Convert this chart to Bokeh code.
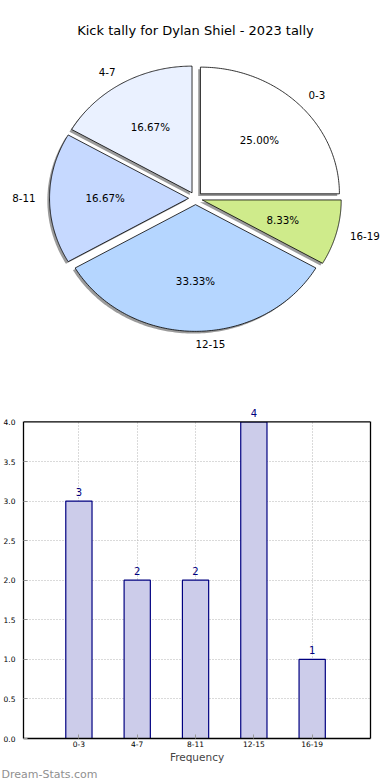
import numpy as np
from bokeh.plotting import figure
from bokeh.layouts import column
from bokeh.models import (Range1d, ColumnDataSource, LabelSet, LinearAxis, Span, BoxAnnotation,
                          Title, FixedTicker, SingleIntervalTicker, PrintfTickFormatter)
from bokeh.core.properties import value
from bokeh.embed import file_html
from bokeh.resources import INLINE

# ---------------- data ----------------
title = "Kick tally for Dylan Shiel - 2023 tally"
categories = ["0-3", "4-7", "8-11", "12-15", "16-19"]
counts = [3, 2, 2, 4, 1]
pie_colors = ["#ffffff", "#eaf1ff", "#c6d9ff", "#b5d6ff", "#cfeb8b"]
x_label = "Frequency"
watermark = "Dream-Stats.com"

FONT = "DejaVu Sans"

# ---------------- layout constants (pixels) ----------------
W = 390
PIE_H = 388
BAR_H = 780 - PIE_H
PIE_CX, PIE_CY = 195.0, 197.8      # pie centre inside the pie figure
RX, RY = 139.0, 126.7              # pie radii in pixels (elliptical, like the source)
EXPLODE = 0.05
SHADOW_PX = 2.2

BAR_LEFT, BAR_RIGHT = 22, 20        # borders around the bar frame
BAR_TOP, BAR_BOTTOM = 15, 41
FRAME_H = BAR_H - BAR_TOP - BAR_BOTTOM
SPINE_GAP = 18.5                    # from frame top down to the top spine (y = max)
X_PAD_LEFT = 0.05                   # the frame starts slightly right of the axes box

# ---------------- pie figure ----------------
pie = figure(width=W, height=PIE_H, output_backend="svg", toolbar_location=None,
             x_range=Range1d(-PIE_CX / RX, (W - PIE_CX) / RX),
             y_range=Range1d(-(PIE_H - PIE_CY) / RY, PIE_CY / RY),
             x_axis_type=None, y_axis_type=None, min_border=0)
pie.frame_align = False
pie.outline_line_color = None
pie.grid.visible = False
pie.background_fill_color = "white"

total = float(sum(counts))
fracs = [c / total for c in counts]
starts = np.cumsum([0.0] + fracs[:-1])

wx, wy, sx, sy = [], [], [], []
lab_x, lab_y, lab_align, pct_x, pct_y, pct_txt = [], [], [], [], [], []
for f, s in zip(fracs, starts):
    t1, t2 = 2 * np.pi * s, 2 * np.pi * (s + f)
    tm = (t1 + t2) / 2
    ox, oy = EXPLODE * np.cos(tm), EXPLODE * np.sin(tm)
    th = np.linspace(t1, t2, 120)
    px = np.concatenate([[ox], ox + np.cos(th), [ox]])
    py = np.concatenate([[oy], oy + np.sin(th), [oy]])
    wx.append(px); wy.append(py)
    sx.append(px - SHADOW_PX / RX); sy.append(py - SHADOW_PX / RY)
    lx = ox + 1.1 * np.cos(tm)
    lab_x.append(lx); lab_y.append(oy + 1.1 * np.sin(tm))
    lab_align.append("left" if lx > -1e-6 else "right")
    pct_x.append(ox + 0.6 * np.cos(tm)); pct_y.append(oy + 0.6 * np.sin(tm))
    pct_txt.append("%.2f%%" % (100 * f))

pie.patches(xs=sx, ys=sy, fill_color="#8a8a8a", line_color=None, fill_alpha=0.85)
pie.patches(xs=wx, ys=wy, fill_color=pie_colors, line_color="black", line_width=0.8)

pie.text(x=lab_x, y=lab_y, text=categories, text_align=lab_align, text_baseline="middle",
         text_font=value(FONT), text_font_size="10.3px", text_color="black")
pie.text(x=pct_x, y=pct_y, text=pct_txt, text_align="center", text_baseline="middle",
         text_font=value(FONT), text_font_size="10.3px", text_color="black")
pie.text(x=[0.0], y=[(PIE_CY - 29.5) / RY], text=[title], text_align="center",
         text_baseline="middle", text_font=value(FONT), text_font_size="13px", text_color="black")

# ---------------- bar figure ----------------
positions = list(range(1, len(categories) + 1))
ymax = max(counts)
y_end = ymax * FRAME_H / (FRAME_H - SPINE_GAP)

bar = figure(width=W, height=BAR_H, output_backend="svg", toolbar_location=None,
             x_range=Range1d(X_PAD_LEFT, len(categories) + 1), y_range=Range1d(0, y_end),
             min_border_top=BAR_TOP, min_border_left=BAR_LEFT, min_border_right=BAR_RIGHT,
             min_border_bottom=BAR_BOTTOM)
bar.frame_align = False
bar.outline_line_color = None
bar.background_fill_color = "white"

src = ColumnDataSource(dict(x=positions, top=counts, lab=[str(c) for c in counts]))
bar.vbar(x="x", top="top", width=0.45, source=src, fill_color="#ccccea",
         line_color="#000080", line_width=1.2)

xt = FixedTicker(ticks=positions)
bar.xaxis.ticker = xt
bar.xaxis.major_label_overrides = {p: c for p, c in zip(positions, categories)}
bar.yaxis.ticker = SingleIntervalTicker(interval=0.5)
bar.yaxis.formatter = PrintfTickFormatter(format="%.1f")
bar.yaxis.bounds = (0, ymax)
for ax in (bar.xaxis[0], bar.yaxis[0]):
    ax.axis_line_color = "black"
    ax.axis_line_width = 1.3
    ax.major_tick_in = 4
    ax.major_tick_out = 0
    ax.minor_tick_line_color = None
    ax.major_tick_line_color = "#999999"
    ax.major_label_text_font = FONT
    ax.major_label_text_font_size = "7.5px"
    ax.major_label_text_color = "black"
bar.yaxis.major_label_standoff = 4
bar.xaxis.major_label_standoff = 2
bar.xaxis.axis_label = x_label
bar.xaxis.axis_label_text_font = FONT
bar.xaxis.axis_label_text_font_size = "10.5px"
bar.xaxis.axis_label_text_font_style = "normal"
bar.xaxis.axis_label_standoff = 1

# right spine (no ticks) and top spine at y = max
right_ax = LinearAxis(ticker=FixedTicker(ticks=[]), bounds=(0, ymax), axis_line_color="black",
                      axis_line_width=1.3, major_tick_line_color=None, minor_tick_line_color=None)
bar.add_layout(right_ax, "right")

bar.xgrid.ticker = xt
bar.grid.grid_line_color = "#b4b4b4"
bar.grid.grid_line_dash = "1 2"
bar.grid.grid_line_width = 1

# blank the strip above the axes box (grid lines stop at the top spine)
bar.add_layout(BoxAnnotation(bottom=ymax, fill_color="white", fill_alpha=1.0, line_color=None))
bar.add_layout(Span(location=ymax, dimension="width", line_color="black", line_width=1.3))

labels = LabelSet(x="x", y="top", text="lab", source=src, y_offset=5, text_align="center",
                  text_baseline="alphabetic", text_font=value(FONT), text_font_size="10px",
                  text_color="#000080")
bar.add_layout(labels)

wm = Title(text=watermark, align="left", offset=-BAR_LEFT, standoff=0, text_font=FONT,
           text_font_size="11px", text_font_style="normal", text_color="#909090")
bar.add_layout(wm, "below")

layout = column(pie, bar, spacing=0)
open("out.html", "w").write(file_html(layout, INLINE))
